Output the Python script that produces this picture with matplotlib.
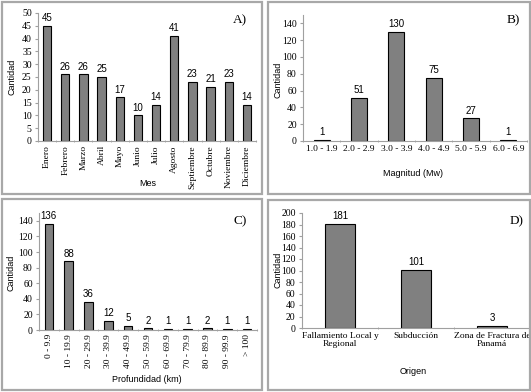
import numpy as np
import matplotlib
matplotlib.use('Agg')
from matplotlib import pyplot as plt
from matplotlib.patches import Rectangle

W, H = 531, 392

meses = ['Enero', 'Febrero', 'Marzo', 'Abril', 'Mayo', 'Junio', 'Julio', 'Agosto',
         'Septiembre', 'Octubre', 'Noviembre', 'Diciembre']
por_mes = [45, 26, 26, 25, 17, 10, 14, 41, 23, 21, 23, 14]

magnitudes = ['1.0 - 1.9', '2.0 - 2.9', '3.0 - 3.9', '4.0 - 4.9', '5.0 - 5.9', '6.0 - 6.9']
por_magnitud = [1, 51, 130, 75, 27, 1]

profundidades = ['0 - 9.9', '10 - 19.9', '20 - 29.9', '30 - 39.9', '40 - 49.9', '50 - 59.9',
                 '60 - 69.9', '70 - 79.9', '80 - 89.9', '90 - 99.9', '> 100']
por_profundidad = [136, 88, 36, 12, 5, 2, 1, 1, 2, 1, 1]

origenes = ['Fallamiento Local y\nRegional', 'Subducción', 'Zona de Fractura de\nPanamá']
por_origen = [181, 101, 3]

SERIF = 'Liberation Serif'
SANS = 'Liberation Sans'
GRIS = '#a0a0a0'


def px_axes(fig, left, right, top, bottom):
    # pixel box -> figure fraction
    return fig.add_axes([left / W, 1 - bottom / H, (right - left) / W, (bottom - top) / H])


def panel(fig, box, cats, vals, ymax, yticks, width, xlabel, xlabel_xy, ylabel_xy,
          tag, tag_xy, rot=90):
    ax = px_axes(fig, *box)
    x = np.arange(len(cats))
    bars = ax.bar(x, vals, width=width, color='#808080', edgecolor='black', linewidth=0.8)
    ax.bar_label(bars, padding=2, fontsize=7, family=SANS)
    ax.set_xlim(-0.5, len(cats) - 0.5)
    ax.set_ylim(0, ymax)
    ax.set_yticks(yticks)
    ax.set_xticks(x)
    ax.set_xticklabels(cats, rotation=rot, family=SERIF, fontsize=6.8,
                       linespacing=1.0)
    ax.set_xticks(np.arange(len(cats) + 1) - 0.5, minor=True)
    for lbl in ax.get_yticklabels():
        lbl.set_family(SERIF)
        lbl.set_fontsize(7)
    ax.tick_params(axis='x', which='major', length=0, pad=3)
    ax.tick_params(axis='x', which='minor', length=2, color=GRIS, direction='inout')
    ax.tick_params(axis='y', length=2.5, color=GRIS, pad=2)
    for s in ['top', 'right']:
        ax.spines[s].set_visible(False)
    for s in ['left', 'bottom']:
        ax.spines[s].set_color(GRIS)
        ax.spines[s].set_linewidth(0.8)
    fig.text(xlabel_xy[0] / W, 1 - xlabel_xy[1] / H, xlabel, family=SANS, fontsize=6.5,
             ha='center', va='center')
    fig.text(ylabel_xy[0] / W, 1 - ylabel_xy[1] / H, 'Cantidad', family=SANS, fontsize=6.5,
             ha='center', va='center', rotation=90)
    fig.text(tag_xy[0] / W, 1 - tag_xy[1] / H, tag, family=SERIF, fontsize=9.5,
             ha='center', va='center')
    return ax


fig = plt.figure(figsize=(W / 100, H / 100), dpi=100)
fig.patch.set_facecolor('white')

# panel frames
for (l, t, r, b) in [(2, 2, 262, 194), (268, 2, 530, 194),
                     (2, 199, 262, 390), (268, 200, 530, 390)]:
    fig.patches.append(Rectangle((l / W, 1 - b / H), (r - l) / W, (b - t) / H,
                                 transform=fig.transFigure, fill=False,
                                 edgecolor='#a8a8a8', linewidth=1.6))

panel(fig, (38, 256, 13, 141), meses, por_mes, 50, range(0, 51, 5), 0.45,
      'Mes', (148, 183), (12, 77), 'A)', (240, 20))
panel(fig, (303, 527, 15, 141), magnitudes, por_magnitud, 150, range(0, 141, 20), 0.43,
      'Magnitud (Mw)', (413, 173), (278, 80), 'B)', (513, 20), rot=0)
panel(fig, (39, 257, 213, 330), profundidades, por_profundidad, 150, range(0, 141, 20), 0.43,
      'Profundidad (km)', (147, 379), (11, 273), 'C)', (240, 221))
panel(fig, (302, 530, 213, 328), origenes, por_origen, 200, range(0, 201, 20), 0.4,
      'Origen', (413, 371), (278, 270), 'D)', (517, 221), rot=0)

fig.savefig('out.png', dpi=100)
